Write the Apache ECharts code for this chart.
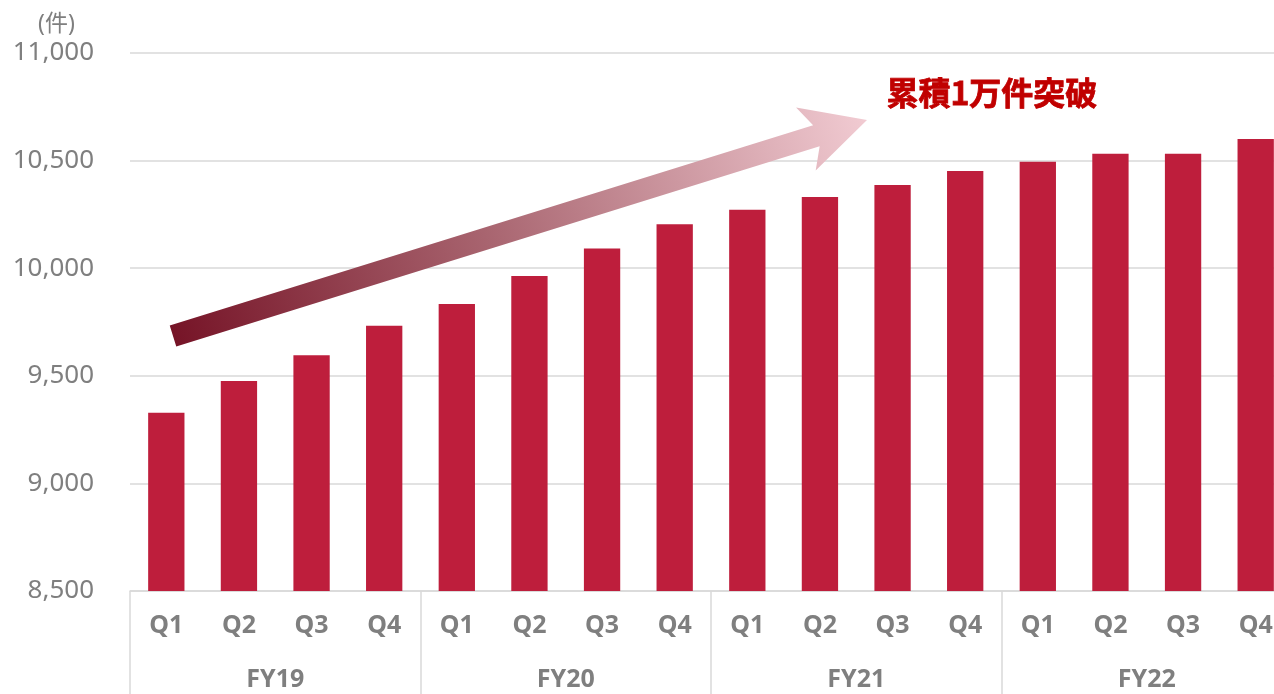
<!DOCTYPE html>
<html>
<head>
<meta charset="utf-8">
<script src="https://cdn.jsdelivr.net/npm/echarts@6/dist/echarts.min.js"></script>
<style>
  html, body { margin: 0; padding: 0; background: #ffffff; overflow: hidden; }
  /* the chart is a little wider than the window: the last quarter is cut at the right edge */
  #chart { width: 1292px; height: 694px; }
</style>
</head>
<body>
<div id="chart"></div>
<script>
// Quarterly cumulative count, FY19–FY22
const fiscalYears = ['FY19', 'FY20', 'FY21', 'FY22'];
const quarters = ['Q1', 'Q2', 'Q3', 'Q4'];
const values = [
  9328, 9476, 9595, 9733,     // FY19
  9834, 9964, 10092, 10204,   // FY20
  10272, 10331, 10387, 10452, // FY21
  10495, 10532, 10532, 10600  // FY22
];
const yTicks = { min: 8500, max: 11000, step: 500 };
const unitLabel = '(件)';
const calloutText = '累積1万件突破';

const categories = [];
fiscalYears.forEach(fy => quarters.forEach(q => categories.push(fy + ' ' + q)));

const gray = '#7f7f7f';
const lineGray = '#d9d9d9';
const font = '"Noto Sans", "Noto Sans CJK JP", sans-serif';

// Trend arrow (annotation) built along its own axis: start centre, tip, widths
function arrowPoints(start, tip, halfShaft, barbBack, barbHalf, neckBack) {
  const dx = tip[0] - start[0], dy = tip[1] - start[1];
  const len = Math.hypot(dx, dy);
  const u = [dx / len, dy / len];
  const n = [-u[1], u[0]];
  const p = (a, b) => [start[0] + u[0] * a + n[0] * b, start[1] + u[1] * a + n[1] * b];
  return [
    p(0, -halfShaft),
    p(len - neckBack, -halfShaft),
    p(len - barbBack, -barbHalf),
    p(len, 0),
    p(len - barbBack, barbHalf),
    p(len - neckBack, halfShaft),
    p(0, halfShaft)
  ];
}
const arrowStart = [173, 336];
const arrowTip = [867, 120];
const arrowPts = arrowPoints(arrowStart, arrowTip, 11, 64, 33, 53);

const chart = echarts.init(document.getElementById('chart'), null, { renderer: 'canvas' });

chart.setOption({
  animation: false,
  backgroundColor: '#ffffff',
  title: {
    text: unitLabel,
    left: 33,
    top: 8,
    textStyle: { color: gray, fontSize: 23, fontWeight: 'normal', fontFamily: font }
  },
  grid: { left: 130, right: 0, top: 53, bottom: 103, containLabel: false },
  xAxis: [
    {
      type: 'category',
      data: categories,
      boundaryGap: true,
      axisLine: { show: true, lineStyle: { color: lineGray, width: 1.5 } },
      axisTick: {
        show: true,
        interval: (i) => i % quarters.length === 0,
        length: 103,
        lineStyle: { color: lineGray, width: 1.5 }
      },
      axisLabel: {
        interval: 0,
        margin: 22,
        color: gray,
        fontSize: 25,
        fontWeight: 'bold',
        fontFamily: font,
        formatter: (v) => v.split(' ')[1]
      }
    },
    {
      type: 'category',
      data: fiscalYears,
      position: 'bottom',
      offset: 54,
      boundaryGap: true,
      axisLine: { show: false },
      axisTick: { show: false },
      axisLabel: {
        interval: 0,
        margin: 22,
        color: gray,
        fontSize: 25,
        fontWeight: 'bold',
        fontFamily: font
      }
    }
  ],
  yAxis: {
    type: 'value',
    min: yTicks.min,
    max: yTicks.max,
    interval: yTicks.step,
    axisLine: { show: false },
    axisTick: { show: false },
    splitLine: { show: true, lineStyle: { color: lineGray, width: 1.5 } },
    axisLabel: {
      margin: 36,
      color: gray,
      fontSize: 26,
      fontFamily: font,
      formatter: (v) => v.toLocaleString('en-US')
    }
  },
  series: [
    {
      type: 'bar',
      xAxisIndex: 0,
      data: values,
      barWidth: '50%',
      itemStyle: { color: '#BE1E3C' },
      z: 2
    }
  ],
  graphic: [
    {
      type: 'polygon',
      z: 10,
      shape: { points: arrowPts },
      style: {
        fill: new echarts.graphic.LinearGradient(
          arrowStart[0], arrowStart[1], arrowTip[0], arrowTip[1],
          [
            { offset: 0, color: '#761427' },
            { offset: 0.45, color: '#a8646f' },
            { offset: 1, color: '#f1cbd2' }
          ],
          true
        )
      }
    },
    {
      type: 'text',
      z: 11,
      left: 886,
      top: 76,
      style: {
        text: calloutText,
        fill: '#C00000',
        stroke: '#C00000',
        lineWidth: 0.8,
        font: 'bold 32px "Noto Sans CJK JP", sans-serif'
      }
    }
  ]
});
</script>
</body>
</html>
